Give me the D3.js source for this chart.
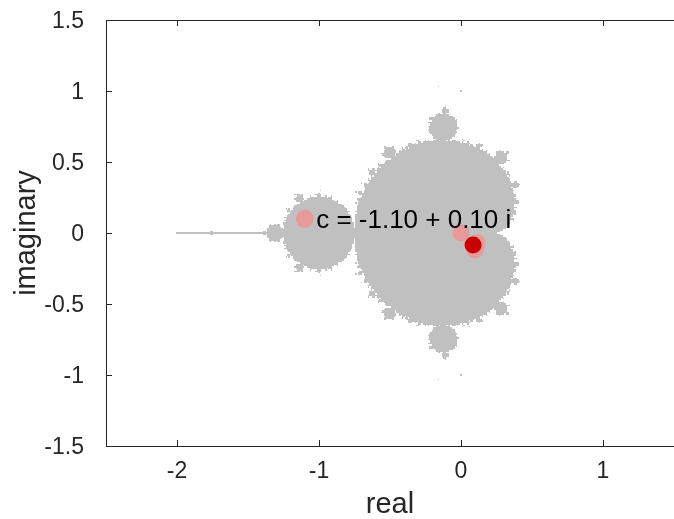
<!DOCTYPE html>
<html>
<head>
<meta charset="utf-8">
<script src="https://cdn.jsdelivr.net/npm/d3@7"></script>
<style>
  body { margin: 0; background: #fff; }
  #wrap { position: relative; width: 674px; height: 519px; }
  canvas, svg { position: absolute; left: 0; top: 0; }
  text { font-family: "Liberation Sans", Arial, sans-serif; }
</style>
</head>
<body>
<div id="wrap"></div>
<script>
// plot window
const xDomain = [-2.5, 1.5]
const yDomain = [-1.5, 1.5]
const xTicks = [-2, -1, 0, 1]
const yTicks = [-1.5, -1, -0.5, 0, 0.5, 1, 1.5]

// mandelbrot sampling grid
const gridStep = 0.01
const maxIter = 100

// the parameter c and the orbit points shown
const cPoint = [-1.10, 0.10]
const cLabel = "c = -1.10 + 0.10 i"
const trailRe = [0, 0.10, 0.114]
const trailIm = [0, -0.12, -0.068]
const current = [0.085, -0.085]

const width = 674
const height = 519
const margin = { left: 106, right: 0, top: 20, bottom: 73 }

const x = d3.scaleLinear().domain(xDomain).range([margin.left, width - margin.right])
const y = d3.scaleLinear().domain(yDomain).range([height - margin.bottom, margin.top])

const wrap = d3.select("#wrap")
const canvas = wrap.append("canvas").attr("width", width).attr("height", height)
const svg = wrap.append("svg").attr("width", width).attr("height", height)

function drawSet() {
    const nx = Math.round((xDomain[1] - xDomain[0]) / gridStep) + 1
    const ny = Math.round((yDomain[1] - yDomain[0]) / gridStep) + 1
    const off = document.createElement("canvas")
    off.width = nx
    off.height = ny
    const octx = off.getContext("2d")
    const img = octx.createImageData(nx, ny)
    for (let j = 0; j < ny; j++) {
        const ci = Math.round((yDomain[1] - j * gridStep) * 100) / 100
        for (let i = 0; i < nx; i++) {
            const cr = Math.round((xDomain[0] + i * gridStep) * 100) / 100
            let zr = 0, zi = 0, inside = true
            for (let k = 0; k < maxIter; k++) {
                const t = zr * zr - zi * zi + cr
                zi = 2 * zr * zi + ci
                zr = t
                if (zr * zr + zi * zi > 4) { inside = false; break }
            }
            const p = (j * nx + i) * 4
            const v = inside ? 192 : 255
            img.data[p] = v; img.data[p + 1] = v; img.data[p + 2] = v; img.data[p + 3] = 255
        }
    }
    octx.putImageData(img, 0, 0)
    const ctx = canvas.node().getContext("2d")
    ctx.imageSmoothingEnabled = false
    const x0 = x(xDomain[0] - gridStep / 2), x1 = x(xDomain[1] + gridStep / 2)
    const y0 = y(yDomain[1] + gridStep / 2), y1 = y(yDomain[0] - gridStep / 2)
    ctx.save()
    ctx.beginPath()
    ctx.rect(x(xDomain[0]), y(yDomain[1]), x(xDomain[1]) - x(xDomain[0]), y(yDomain[0]) - y(yDomain[1]))
    ctx.clip()
    ctx.drawImage(off, x0, y0, x1 - x0, y1 - y0)
    ctx.restore()
}

function drawAxes() {
    const g = svg.append("g")
    const tick = 6
    const col = "#262626"
    g.append("rect")
        .attr("x", x(xDomain[0]) + 0.5).attr("y", y(yDomain[1]) + 0.5)
        .attr("width", x(xDomain[1]) - x(xDomain[0]) + 2).attr("height", y(yDomain[0]) - y(yDomain[1]))
        .attr("fill", "none").attr("stroke", col).attr("stroke-width", 1)
    xTicks.forEach(t => {
        const px = Math.round(x(t)) + 0.5
        g.append("line").attr("x1", px).attr("x2", px)
            .attr("y1", y(yDomain[0])).attr("y2", y(yDomain[0]) - tick).attr("stroke", col)
        g.append("line").attr("x1", px).attr("x2", px)
            .attr("y1", y(yDomain[1])).attr("y2", y(yDomain[1]) + tick).attr("stroke", col)
        g.append("text").attr("x", x(t)).attr("y", y(yDomain[0]) + 32)
            .attr("text-anchor", "middle").attr("font-size", 23).attr("fill", col)
            .text(String(t))
    })
    yTicks.forEach(t => {
        const py = Math.round(y(t)) + 0.5
        g.append("line").attr("x1", x(xDomain[0])).attr("x2", x(xDomain[0]) + tick)
            .attr("y1", py).attr("y2", py).attr("stroke", col)
        g.append("text").attr("x", x(xDomain[0]) - 22).attr("y", y(t) + 8)
            .attr("text-anchor", "end").attr("font-size", 23).attr("fill", col)
            .text(String(t))
    })
    g.append("text").attr("x", (x(xDomain[0]) + x(xDomain[1])) / 2).attr("y", 513)
        .attr("text-anchor", "middle").attr("font-size", 29).attr("fill", col).text("real")
    g.append("text").attr("transform", `translate(35,${y(0)}) rotate(-90)`)
        .attr("text-anchor", "middle").attr("font-size", 29).attr("fill", col).text("imaginary")
}

function drawPoints() {
    const g = svg.append("g")
    const trail = trailRe.map((r, i) => [r, trailIm[i]])
    g.selectAll("circle.trail").data(trail).enter()
        .append("circle").attr("class", "trail")
        .attr("cx", d => x(d[0])).attr("cy", d => y(d[1])).attr("r", 8.5)
        .attr("fill", "rgb(255,128,128)").attr("fill-opacity", 0.6)
    g.append("circle")
        .attr("cx", x(cPoint[0])).attr("cy", y(cPoint[1])).attr("r", 9)
        .attr("fill", "rgb(255,128,128)").attr("fill-opacity", 0.6)
    g.append("circle")
        .attr("cx", x(current[0])).attr("cy", y(current[1])).attr("r", 8.5)
        .attr("fill", "#c80000")
    g.append("text")
        .attr("x", x(cPoint[0] + 0.08)).attr("y", y(cPoint[1]) + 9)
        .attr("font-size", 26).attr("fill", "#000").text(cLabel)
}

drawSet()
drawAxes()
drawPoints()
</script>
</body>
</html>
